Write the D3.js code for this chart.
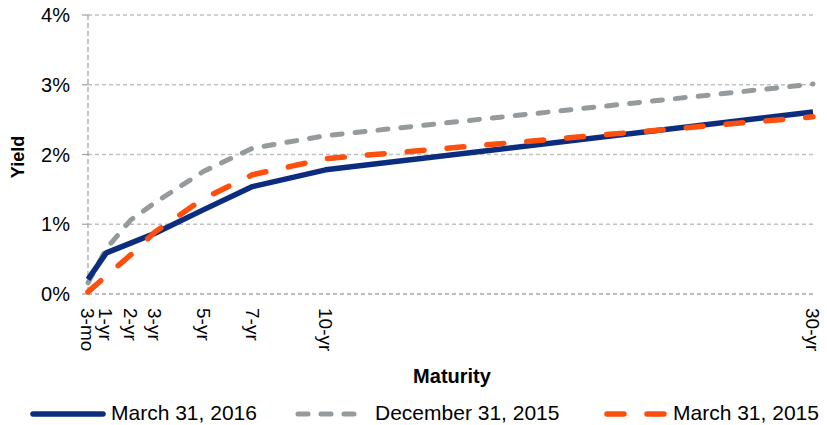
<!DOCTYPE html>
<html>
<head>
<meta charset="utf-8">
<script src="https://cdn.jsdelivr.net/npm/d3@7"></script>
<style>
  html, body { margin: 0; padding: 0; background: #fff; }
  svg { display: block; font-family: Arial, "Liberation Sans", sans-serif; }
</style>
</head>
<body>
<svg id="chart" width="827" height="425"></svg>
<script>
// ---- data ----
const maturities = [0.25, 1, 2, 3, 5, 7, 10, 30];
const maturityLabels = ["3-mo", "1-yr", "2-yr", "3-yr", "5-yr", "7-yr", "10-yr", "30-yr"];
const yMar2016 = [0.21, 0.59, 0.73, 0.87, 1.21, 1.54, 1.78, 2.61];
const yDec2015 = [0.16, 0.65, 1.06, 1.31, 1.76, 2.09, 2.27, 3.01];
const yMar2015 = [0.03, 0.26, 0.56, 0.89, 1.37, 1.71, 1.94, 2.54];
const yTicks = [0, 1, 2, 3, 4];
const seriesNames = ["March 31, 2016", "December 31, 2015", "March 31, 2015"];

const series = [
  { name: seriesNames[0], values: yMar2016, color: "#0c2c7e", width: 5.5, dash: null, cap: "butt" },
  { name: seriesNames[1], values: yDec2015, color: "#959a9d", width: 5, dash: "10,13", cap: "round" },
  { name: seriesNames[2], values: yMar2015, color: "#ff4f0c", width: 5.5, dash: "17,23", cap: "round" }
];

const svg = d3.select("#chart");
const x = d3.scaleLinear().domain([0.25, 30]).range([88, 813]);
const y = d3.scaleLinear().domain([0, 4]).range([294, 15]);

// horizontal gridlines
svg.append("g").selectAll("line").data(yTicks).join("line")
  .attr("x1", x(0.25)).attr("x2", x(30))
  .attr("y1", d => y(d)).attr("y2", d => y(d))
  .attr("stroke", d => d === 0 ? "#a6a6a6" : "#c0c0c0")
  .attr("stroke-width", 1.3)
  .attr("stroke-dasharray", "4,3");

// y axis line + ticks
svg.append("line")
  .attr("x1", x(0.25)).attr("x2", x(0.25))
  .attr("y1", y(4)).attr("y2", y(0))
  .attr("stroke", "#a6a6a6").attr("stroke-width", 1.3)
  .attr("stroke-dasharray", "5,3");
svg.append("g").selectAll("line").data(yTicks).join("line")
  .attr("x1", x(0.25) - 6).attr("x2", x(0.25))
  .attr("y1", d => y(d)).attr("y2", d => y(d))
  .attr("stroke", "#a6a6a6").attr("stroke-width", 1.3);

// y tick labels
svg.append("g").selectAll("text").data(yTicks).join("text")
  .attr("x", 70).attr("y", d => y(d))
  .attr("dy", "0.36em")
  .attr("text-anchor", "end")
  .attr("font-size", 20)
  .attr("fill", "#000")
  .text(d => d + "%");

// x tick labels (rotated)
svg.append("g").selectAll("text").data(maturities).join("text")
  .attr("transform", d => `translate(${x(d)},308) rotate(90)`)
  .attr("dy", "0.36em")
  .attr("text-anchor", "start")
  .attr("font-size", 19)
  .attr("fill", "#000")
  .text((d, i) => maturityLabels[i]);

// axis titles
svg.append("text")
  .attr("transform", "translate(24,157) rotate(-90)")
  .attr("text-anchor", "middle")
  .attr("font-size", 18).attr("font-weight", "bold")
  .text("Yield");
svg.append("text")
  .attr("x", 452).attr("y", 383)
  .attr("text-anchor", "middle")
  .attr("font-size", 20).attr("font-weight", "bold")
  .text("Maturity");

// lines
const line = d3.line().x((d, i) => x(maturities[i])).y(d => y(d));
const order = [1, 0, 2];
svg.append("g").selectAll("path").data(order.map(i => series[i])).join("path")
  .attr("d", s => line(s.values))
  .attr("fill", "none")
  .attr("stroke", s => s.color)
  .attr("stroke-width", s => s.width)
  .attr("stroke-dasharray", s => s.dash)
  .attr("stroke-linecap", s => s.cap)
  .attr("stroke-linejoin", "round");

// legend
const legendItems = [
  { s: series[0], x1: 33, x2: 103, tx: 111 },
  { s: series[1], x1: 298, x2: 358, tx: 375 },
  { s: series[2], x1: 607, x2: 665, tx: 673 }
];
const lg = svg.append("g");
legendItems.forEach(it => {
  lg.append("line")
    .attr("x1", it.x1).attr("x2", it.x2)
    .attr("y1", 414).attr("y2", 414)
    .attr("stroke", it.s.color)
    .attr("stroke-width", it.s.width)
    .attr("stroke-dasharray", it.s.dash)
    .attr("stroke-linecap", "round");
  lg.append("text")
    .attr("x", it.tx).attr("y", 420)
    .attr("font-size", 21)
    .attr("fill", "#000")
    .text(it.s.name);
});
</script>
</body>
</html>
